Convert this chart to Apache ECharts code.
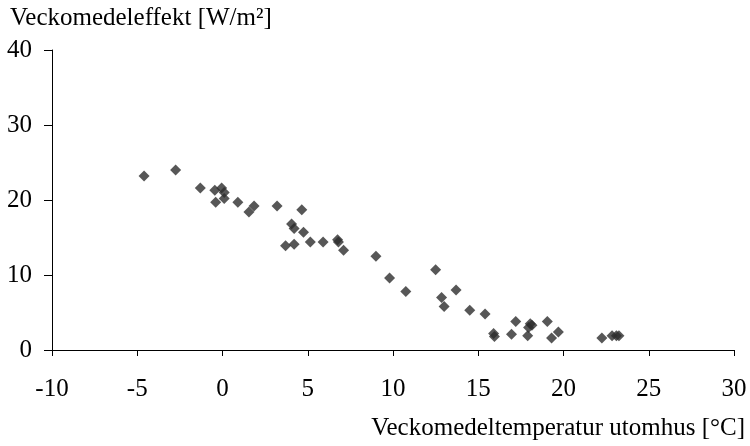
<!DOCTYPE html>
<html>
<head>
<meta charset="utf-8">
<script src="https://cdn.jsdelivr.net/npm/echarts@6/dist/echarts.min.js"></script>
<style>
html, body { margin: 0; padding: 0; background: #fff; }
#chart { width: 750px; height: 446px; }
</style>
</head>
<body>
<div id="chart"></div>
<script>
// weekly mean outdoor temperature [°C]
var temp = [
  -4.6, -2.75, -1.3, -0.45, -0.05, 0.1, -0.4, 0.1, 0.9, 1.55, 1.85,
  3.2, 4.65, 4.05, 4.2, 4.75, 3.7, 4.2, 5.15, 5.9, 6.75, 6.8, 7.1,
  9.0, 9.8, 10.75, 12.5, 12.85, 13.0, 13.7, 14.5, 15.4, 15.9, 15.95,
  17.2, 16.95, 17.9, 18.05, 17.95, 18.15, 19.05, 19.7, 19.3,
  22.25, 22.85, 23.1, 23.25
];
// weekly mean heating power [W/m²]
var power = [
  23.2, 24.0, 21.6, 21.3, 21.6, 21.0, 19.7, 20.2, 19.7, 18.4, 19.2,
  19.2, 18.7, 16.8, 16.2, 15.7, 13.9, 14.1, 14.4, 14.4, 14.7, 14.4, 13.3,
  12.5, 9.6, 7.8, 10.7, 7.0, 5.8, 8.0, 5.3, 4.8, 2.2, 1.8,
  3.8, 2.1, 1.9, 3.5, 3.0, 3.3, 3.8, 2.4, 1.6,
  1.6, 1.9, 1.9, 1.9
];
var xTicks = { min: -10, max: 30, step: 5 };
var yTicks = { min: 0, max: 40, step: 10 };

var font = 'Liberation Serif';
var points = temp.map(function (t, i) { return [t, power[i]]; });

var chart = echarts.init(document.getElementById('chart'));
chart.setOption({
  animation: false,
  backgroundColor: '#fff',
  title: [
    {
      text: 'Veckomedeleffekt [W/m²]',
      left: 10, top: 6, padding: 0,
      textStyle: { fontFamily: font, fontSize: 25, fontWeight: 'normal', color: '#000' }
    },
    {
      text: 'Veckomedeltemperatur utomhus [°C]',
      right: 5, top: 416, padding: 0,
      textStyle: { fontFamily: font, fontSize: 25, fontWeight: 'normal', color: '#000' }
    }
  ],
  grid: { left: 52, right: 16, top: 50, bottom: 96, containLabel: false },
  xAxis: {
    type: 'value',
    min: xTicks.min, max: xTicks.max, interval: xTicks.step,
    splitLine: { show: false },
    axisLine: { onZero: false, lineStyle: { color: '#000', width: 1 } },
    axisTick: { length: 6, lineStyle: { color: '#000' } },
    axisLabel: { margin: 27, fontFamily: font, fontSize: 25, color: '#000' }
  },
  yAxis: {
    type: 'value',
    min: yTicks.min, max: yTicks.max, interval: yTicks.step,
    splitLine: { show: false },
    axisLine: { show: true, onZero: false, lineStyle: { color: '#000', width: 1 } },
    axisTick: { show: true, length: 8, lineStyle: { color: '#000' } },
    axisLabel: { margin: 20, fontFamily: font, fontSize: 25, color: '#000' }
  },
  series: [{
    type: 'scatter',
    data: points,
    symbol: 'diamond',
    symbolSize: 11,
    itemStyle: { color: '#2d2d2d' }
  }]
});
</script>
</body>
</html>
